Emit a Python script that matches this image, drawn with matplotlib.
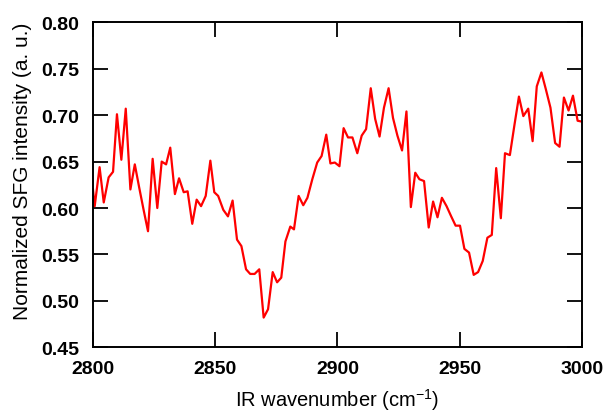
import matplotlib
matplotlib.use("Agg")
import matplotlib.pyplot as plt

wavenumber = [
    2800.0, 2800.7, 2802.7, 2804.4, 2806.4, 2808.2, 2809.8, 2811.6, 2813.4, 2815.3,
    2817.1, 2818.9, 2820.7, 2822.5, 2824.4, 2826.3, 2828.1, 2829.9, 2831.6, 2833.5,
    2835.2, 2837.1, 2838.7, 2840.6, 2842.4, 2844.2, 2846.1, 2848.0, 2849.6, 2851.2,
    2853.3, 2855.2, 2857.1, 2858.9, 2860.7, 2862.6, 2864.3, 2866.1, 2868.0, 2869.8,
    2871.6, 2873.5, 2875.3, 2877.0, 2878.7, 2880.7, 2882.2, 2884.1, 2886.0, 2887.7,
    2889.7, 2891.7, 2893.5, 2895.4, 2897.1, 2898.9, 2900.8, 2902.5, 2904.3, 2906.1,
    2908.1, 2909.9, 2911.7, 2913.6, 2915.4, 2917.2, 2919.0, 2920.9, 2922.7, 2924.5,
    2926.4, 2928.2, 2930.0, 2931.8, 2933.5, 2935.4, 2937.3, 2939.1, 2940.9, 2942.7,
    2944.6, 2946.5, 2948.3, 2950.1, 2951.9, 2953.8, 2955.7, 2957.5, 2959.4, 2961.3,
    2963.1, 2964.9, 2966.8, 2968.5, 2970.5, 2972.4, 2974.2, 2976.0, 2978.0, 2979.8,
    2981.5, 2983.4, 2985.2, 2987.1, 2989.0, 2990.8, 2992.6, 2994.5, 2996.3, 2998.2,
    3000.0,
]
intensity = [
    0.620, 0.602, 0.644, 0.606, 0.633, 0.639, 0.701, 0.652, 0.707, 0.620,
    0.647, 0.622, 0.598, 0.575, 0.653, 0.600, 0.650, 0.647, 0.665, 0.615,
    0.632, 0.617, 0.618, 0.583, 0.609, 0.602, 0.613, 0.651, 0.617, 0.613,
    0.598, 0.591, 0.608, 0.566, 0.559, 0.534, 0.529, 0.529, 0.534, 0.482,
    0.491, 0.531, 0.520, 0.525, 0.564, 0.580, 0.577, 0.613, 0.603, 0.611,
    0.631, 0.649, 0.656, 0.679, 0.648, 0.649, 0.645, 0.686, 0.676, 0.676,
    0.659, 0.678, 0.685, 0.729, 0.696, 0.677, 0.708, 0.729, 0.697, 0.678,
    0.662, 0.704, 0.601, 0.638, 0.631, 0.629, 0.579, 0.607, 0.590, 0.611,
    0.602, 0.591, 0.581, 0.581, 0.556, 0.552, 0.528, 0.531, 0.543, 0.568,
    0.571, 0.643, 0.589, 0.659, 0.657, 0.690, 0.720, 0.699, 0.707, 0.672,
    0.731, 0.746, 0.728, 0.708, 0.670, 0.666, 0.719, 0.705, 0.721, 0.694,
    0.693,
]

x_ticks = [2800, 2850, 2900, 2950, 3000]
y_ticks = [0.45, 0.50, 0.55, 0.60, 0.65, 0.70, 0.75, 0.80]

plt.rcParams['font.family'] = ['Liberation Sans', 'DejaVu Sans']
plt.rcParams['mathtext.fontset'] = 'custom'
plt.rcParams['mathtext.rm'] = 'Liberation Sans'
plt.rcParams['mathtext.it'] = 'Liberation Sans'

fig = plt.figure(figsize=(6.05, 4.14), dpi=100)
ax = fig.add_axes([0.1537, 0.1587, 0.8083, 0.785])
ax.plot(wavenumber, intensity, color='#ff0000', linewidth=1.6)
ax.set_xlim(2800, 3000)
ax.set_ylim(0.45, 0.80)
ax.set_xticks(x_ticks)
ax.set_yticks(y_ticks)
ax.set_xticklabels([str(t) for t in x_ticks], fontweight='bold', fontsize=14)
ax.set_yticklabels(['%.2f' % t for t in y_ticks], fontweight='bold', fontsize=14)
ax.tick_params(direction='in', length=11, width=1.3, top=True, right=True)
ax.tick_params(axis='x', pad=9)
ax.tick_params(axis='y', pad=10)
for s in ax.spines.values():
    s.set_linewidth(1.4)
ax.set_xlabel('IR wavenumber (cm$^{\\mathrm{-1}}$)', fontsize=14.5, labelpad=7)
ax.set_ylabel('Normalized SFG intensity (a. u.)', fontsize=15)
ax.yaxis.set_label_coords(-0.125, 0.545)
fig.savefig('out.png', dpi=100)
